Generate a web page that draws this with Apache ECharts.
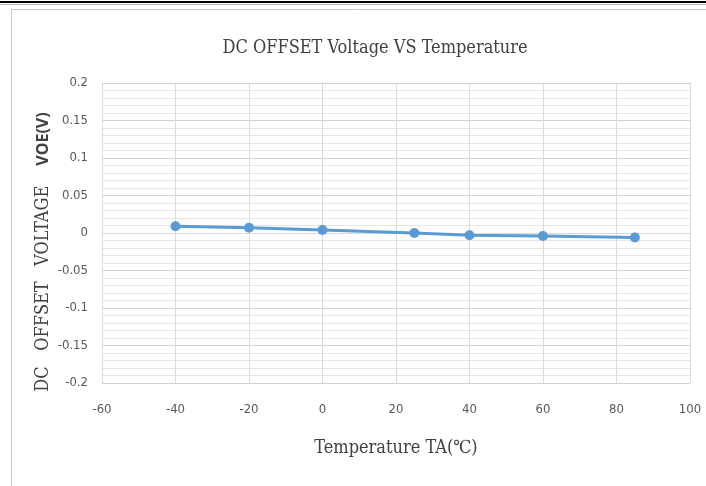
<!DOCTYPE html>
<html>
<head>
<meta charset="utf-8">
<script src="https://cdn.jsdelivr.net/npm/echarts@6/dist/echarts.min.js"></script>
<style>
html,body{margin:0;padding:0;background:#fff;}
#c{width:706px;height:486px;}
</style>
</head>
<body>
<div id="c"></div>
<script>
var temperatures = [-40, -20, 0, 25, 40, 60, 85];
var voeValues = [0.009, 0.007, 0.004, 0.0, -0.003, -0.004, -0.006];
var xTicks = [-60, -40, -20, 0, 20, 40, 60, 80, 100];
var yTicks = [-0.2, -0.15, -0.1, -0.05, 0, 0.05, 0.1, 0.15, 0.2];

var chart = echarts.init(document.getElementById('c'));
var points = temperatures.map(function (t, i) { return [t, voeValues[i]]; });
var narrow = '"Liberation Sans Narrow", "DejaVu Sans Condensed", sans-serif';
var serifNarrow = '"DejaVu Serif Condensed", "Liberation Serif", serif';

chart.setOption({
  animation: false,
  backgroundColor: '#fff',
  graphic: [
    { type: 'rect', shape: { x: 0, y: 1, width: 706, height: 2 }, style: { fill: '#000' }, silent: true },
    { type: 'rect', shape: { x: 0, y: 4, width: 706, height: 1 }, style: { fill: '#bbb' }, silent: true },
    { type: 'rect', shape: { x: 11.5, y: 9.5, width: 720, height: 490 }, style: { fill: 'none', stroke: '#c8c8c8', lineWidth: 1 }, silent: true }
  ],
  title: {
    text: 'DC OFFSET Voltage VS Temperature',
    left: 370,
    textAlign: 'center',
    top: 34,
    textStyle: { fontFamily: serifNarrow, fontSize: 18, fontWeight: 'normal', color: '#404040' }
  },
  grid: { left: 102, right: 16, top: 83, bottom: 103 },
  xAxis: {
    type: 'value',
    min: -60, max: 100, interval: 20,
    name: 'Temperature TA(℃)',
    nameLocation: 'middle',
    nameGap: 56,
    nameMoveOverlap: false,
    nameTextStyle: { fontFamily: serifNarrow, fontSize: 18, color: '#404040' },
    axisLine: { show: true, lineStyle: { color: '#d9d9d9' } },
    axisTick: { show: false },
    axisLabel: {
      fontFamily: narrow, fontSize: 13, color: '#595959', margin: 20,
      formatter: function (v) { return xTicks.indexOf(v) >= 0 ? String(v) : ''; }
    },
    splitLine: { show: true, lineStyle: { color: '#dcdcdc', width: 1 } }
  },
  yAxis: {
    type: 'value',
    min: -0.2, max: 0.2, interval: 0.05,
    name: '{a|DC   OFFSET   VOLTAGE}      {b|VOE(V)}',
    nameLocation: 'middle',
    nameGap: 50,
    nameMoveOverlap: false,
    nameTextStyle: {
      padding: [0, 0, 0, -38],
      rich: {
        a: { fontFamily: serifNarrow, fontSize: 18, color: '#404040' },
        b: { fontFamily: '"Open Sans", "DejaVu Sans", sans-serif', fontSize: 16, fontWeight: 'bold', color: '#404040' }
      }
    },
    axisLine: { show: true, lineStyle: { color: '#d9d9d9' } },
    axisTick: { show: false },
    axisLabel: {
      fontFamily: narrow, fontSize: 13, color: '#595959', margin: 14,
      formatter: function (v) {
        var r = Math.round(v * 100) / 100;
        for (var i = 0; i < yTicks.length; i++) {
          if (Math.abs(yTicks[i] - r) < 1e-9) return String(yTicks[i]);
        }
        return '';
      }
    },
    splitLine: { show: true, lineStyle: { color: '#d0d0d0', width: 1 } },
    minorTick: { show: false, splitNumber: 5 },
    minorSplitLine: { show: true, lineStyle: { color: '#e6e6e6', width: 1 } }
  },
  series: [{
    type: 'line',
    data: points,
    symbol: 'circle',
    symbolSize: 10,
    lineStyle: { color: '#5b9bd5', width: 3 },
    itemStyle: { color: '#5b9bd5' }
  }]
});
</script>
</body>
</html>
